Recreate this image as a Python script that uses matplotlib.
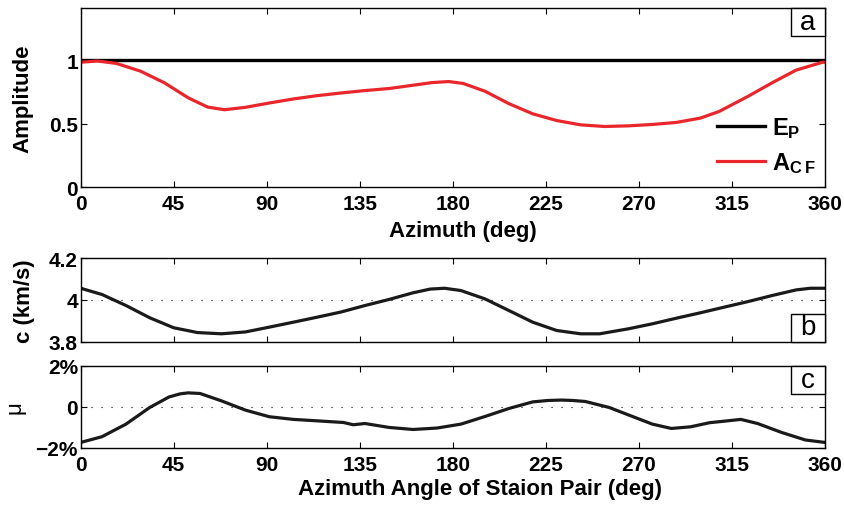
import matplotlib
matplotlib.use('Agg')
from matplotlib import pyplot as plt
from matplotlib.patches import Rectangle

plt.rcParams['font.family'] = ['Liberation Sans', 'DejaVu Sans']
plt.rcParams['font.weight'] = 'bold'
plt.rcParams['axes.labelweight'] = 'bold'
plt.rcParams['mathtext.fontset'] = 'custom'
plt.rcParams['mathtext.bf'] = 'Liberation Sans:bold'
plt.rcParams['mathtext.rm'] = 'Liberation Sans'

# panel a: amplitude vs azimuth
az_a = [0, 8.1, 17.2, 28.9, 40.5, 52.1, 61.4, 69.5, 79.7, 91.2, 102.9, 114.4, 126, 137.5,
        149.1, 160.7, 170, 178, 185, 195.5, 207.1, 218.6, 230.2, 241.8, 253.4, 264.9, 276.5,
        288.1, 299.7, 308.9, 322.8, 334.4, 346, 358.8, 360]
a_cf = [0.985, 0.995, 0.976, 0.915, 0.823, 0.704, 0.632, 0.611, 0.630, 0.664, 0.696, 0.722,
        0.743, 0.762, 0.778, 0.804, 0.825, 0.833, 0.818, 0.757, 0.659, 0.579, 0.526, 0.492,
        0.479, 0.484, 0.495, 0.511, 0.545, 0.598, 0.717, 0.823, 0.923, 0.985, 0.985]
ep_az = [0, 360]
ep_amp = [1, 1]

# panel b: phase velocity
az_b = [0, 10.3, 21.9, 33.4, 45, 56.5, 68.1, 79.7, 91.2, 102.9, 114.4, 126, 137.5, 149.1,
        160.7, 169, 176, 183.9, 195.5, 207.1, 218.6, 230.2, 241.8, 251, 264.9, 276.5, 288.1,
        299.7, 311.2, 322.8, 334.4, 346, 352.9, 360]
vel = [4.056, 4.026, 3.973, 3.914, 3.866, 3.843, 3.837, 3.846, 3.869, 3.893, 3.917, 3.942,
       3.973, 4.002, 4.034, 4.052, 4.056, 4.045, 4.005, 3.949, 3.893, 3.853, 3.837, 3.837,
       3.861, 3.885, 3.912, 3.938, 3.965, 3.992, 4.021, 4.048, 4.056, 4.056]

# panel c: mu (percent)
az_c = [0, 10.3, 21.9, 33.4, 42.7, 48, 52, 57.7, 68.1, 79.7, 91.2, 102.9, 114.4, 127.1, 131.8,
        137.5, 149.1, 160.7, 172.3, 183.9, 195.5, 207.1, 218.6, 226, 232.5, 238, 244.1, 255.6,
        267.2, 276.5, 285.7, 295, 304.2, 310, 319.3, 327.4, 338.9, 350.5, 360]
mu = [-1.73, -1.45, -0.84, -0.03, 0.48, 0.63, 0.68, 0.65, 0.29, -0.16, -0.48, -0.61, -0.68,
      -0.76, -0.87, -0.81, -1.0, -1.10, -1.03, -0.84, -0.47, -0.08, 0.24, 0.31, 0.33, 0.31,
      0.26, -0.03, -0.48, -0.84, -1.05, -0.97, -0.77, -0.71, -0.61, -0.81, -1.24, -1.61, -1.73]

xticks = [0, 45, 90, 135, 180, 225, 270, 315, 360]

fig = plt.figure(figsize=(8.45, 5.1), dpi=100)
W, H = 845.0, 510.0
x0, x1 = 80.7, 825.0
ax_a = fig.add_axes([x0 / W, 1 - 188.3 / H, (x1 - x0) / W, 179.0 / H])
ax_b = fig.add_axes([x0 / W, 1 - 342.5 / H, (x1 - x0) / W, 83.2 / H])
ax_c = fig.add_axes([x0 / W, 1 - 449.0 / H, (x1 - x0) / W, 82.3 / H])

tick_fs = 15
label_fs = 16

for ax in (ax_a, ax_b, ax_c):
    ax.set_xlim(0, 360)
    ax.set_xticks(xticks)
    ax.tick_params(direction='in', length=4.3, width=0.8, top=True, right=True,
                   labelsize=tick_fs, pad=5)
    ax.tick_params(axis='y', pad=2)
    for s in ax.spines.values():
        s.set_linewidth(1.0)


def panel_box(ax, letter, top=True, hfrac=0.156):
    w = 34.0 / (x1 - x0)
    y = 1 - hfrac if top else 0
    ax.add_patch(Rectangle((1 - w, y), w, hfrac, transform=ax.transAxes,
                           fc='white', ec='k', lw=1.0, zorder=5, clip_on=False))
    ax.text(1 - w / 2, y + hfrac / 2, letter, transform=ax.transAxes, ha='center',
            va='center', fontsize=20, fontweight='normal', zorder=6)


# panel a
ln_ep, = ax_a.plot(ep_az, ep_amp, color='k', lw=2.4, label=r'$\mathbf{E_P}$')
ln_acf, = ax_a.plot(az_a, a_cf, color='#e8262b', lw=2.3, label=r'$\mathbf{A_{C\,F}}$')
ax_a.set_ylim(0, 1.41)
ax_a.set_yticks([0, 0.5, 1])
ax_a.set_yticklabels(['0', '0.5', '1'])
ax_a.set_xticklabels([str(t) for t in xticks])
ax_a.set_ylabel('Amplitude', fontsize=label_fs)
ax_a.yaxis.set_label_coords(-0.063, 0.5)
ax_a.set_xlabel('Azimuth (deg)', fontsize=label_fs)
ax_a.xaxis.set_label_coords(0.514, -0.185)
ax_a.legend(handles=[ln_ep, ln_acf], loc='center left', bbox_to_anchor=(0.855, 0.236),
            frameon=False, fontsize=17, handlelength=2.03, handletextpad=0.3,
            borderpad=0, borderaxespad=0, labelspacing=0.4)
panel_box(ax_a, 'a', top=True, hfrac=28.0 / 179)

# panel b
ax_b.plot(az_b, vel, color='#1a1a1a', lw=2.3)
ax_b.axhline(4.0, color='k', lw=0.8, ls=(0, (1, 8)))
ax_b.set_ylim(3.8, 4.2)
ax_b.set_yticks([3.8, 4.0, 4.2])
ax_b.set_yticklabels(['3.8', '4', '4.2'])
ax_b.set_xticklabels([])
ax_b.set_ylabel('c (km/s)', fontsize=label_fs)
ax_b.yaxis.set_label_coords(-0.061, 0.5)
panel_box(ax_b, 'b', top=False, hfrac=28.0 / 83.2)

# panel c
ax_c.plot(az_c, mu, color='#1a1a1a', lw=2.3)
ax_c.axhline(0, color='k', lw=0.8, ls=(0, (1, 8)))
ax_c.set_ylim(-2, 2)
ax_c.set_yticks([-2, 0, 2])
ax_c.set_yticklabels(['\u22122%', '0', '2%'])
ax_c.set_xticklabels([str(t) for t in xticks])
ax_c.set_ylabel('\u03bc', fontsize=label_fs, fontweight='normal')
ax_c.yaxis.set_label_coords(-0.074, 0.5)
ax_c.set_xlabel('Azimuth Angle of Staion Pair (deg)', fontsize=label_fs)
ax_c.xaxis.set_label_coords(0.536, -0.37)
panel_box(ax_c, 'c', top=True, hfrac=28.0 / 82.3)

fig.savefig('out.png', dpi=100)
plt.close(fig)
